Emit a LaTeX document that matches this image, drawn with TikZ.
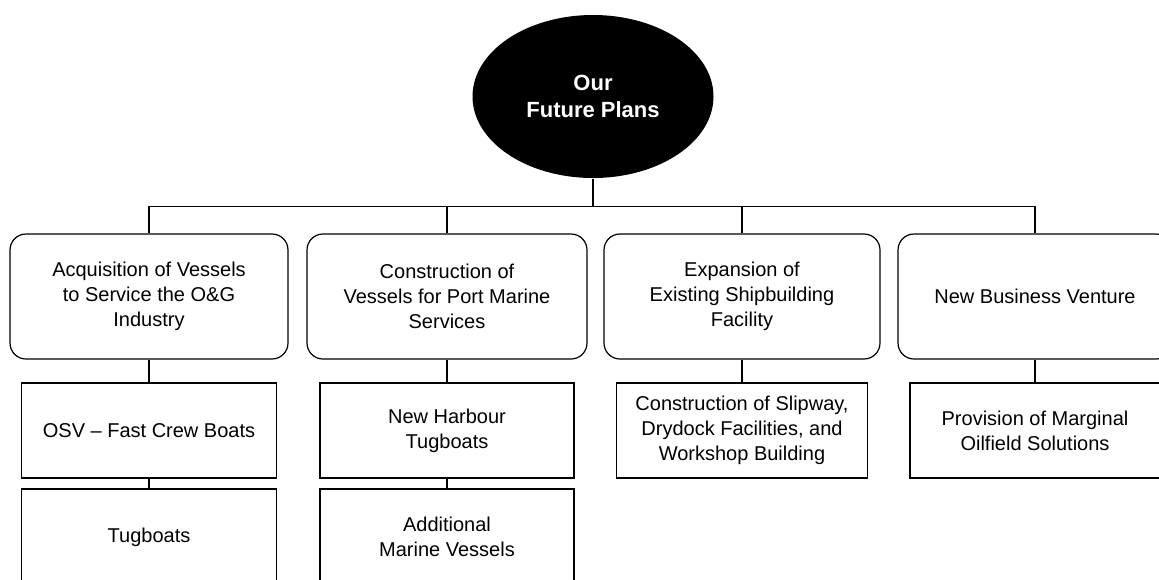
\documentclass[tikz,border=0pt]{standalone}
\usepackage{fontspec}
\setmainfont{Liberation Sans}
\usetikzlibrary{shapes.geometric}
\begin{document}
\begin{tikzpicture}[x=1pt,y=-1pt,
  line width=1.2pt,
  txt/.style={font=\fontsize{20}{25}\selectfont, align=center, inner sep=0pt},
  headbox/.style={txt, draw, rounded corners=16pt, minimum height=125pt},
  itembox/.style={txt, draw, minimum height=95pt},
  goal/.style={ellipse, fill=black, text=white, inner sep=0pt,
    minimum width=241pt, minimum height=163pt,
    font=\bfseries\fontsize{22}{27}\selectfont, align=center}]
\useasboundingbox (0,0) rectangle (1159,579);
\clip (0,0) rectangle (1159,579);
\fill[white] (0,0) rectangle (1159,579);

% central goal
\node[goal] (plan) at (593,96.5) {Our\\Future Plans};

% main branches
\node[headbox, minimum width=278pt] (b1) at (149,296.5) {Acquisition of Vessels\\to Service the O\&G\\Industry};
\node[headbox, minimum width=280pt] (b2) at (447,296.5) {Construction of\\Vessels for Port Marine\\Services};
\node[headbox, minimum width=276pt] (b3) at (742,296.5) {Expansion of\\Existing Shipbuilding\\Facility};
\node[headbox, minimum width=274pt] (b4) at (1035,296.5) {New Business Venture};

% first level items
\node[itembox, minimum width=255pt] (s1) at (149,430.5) {OSV -- Fast Crew Boats};
\node[itembox, minimum width=254pt] (s2) at (447,430.5) {New Harbour\\Tugboats};
\node[itembox, minimum width=251pt] (s3) at (742,430.5) {Construction of Slipway,\\Drydock Facilities, and\\Workshop Building};
\node[itembox, minimum width=250pt] (s4) at (1035,430.5) {Provision of Marginal\\Oilfield Solutions};

% second level items
\node[itembox, minimum width=255pt, minimum height=96pt] (t1) at (149,537) {Tugboats};
\node[itembox, minimum width=254pt, minimum height=96pt] (t2) at (447,537) {Additional\\Marine Vessels};

% tree connectors
\draw (plan.south) -- ++(0,28) coordinate (bus);
\draw (b1.north) |- (bus) -| (b4.north);
\draw (bus) -| (b2.north);
\draw (bus) -| (b3.north);
\draw (b1.south) -- (s1.north);
\draw (b2.south) -- (s2.north);
\draw (b3.south) -- (s3.north);
\draw (b4.south) -- (s4.north);
\draw (s1.south) -- (t1.north);
\draw (s2.south) -- (t2.north);
\end{tikzpicture}
\end{document}
